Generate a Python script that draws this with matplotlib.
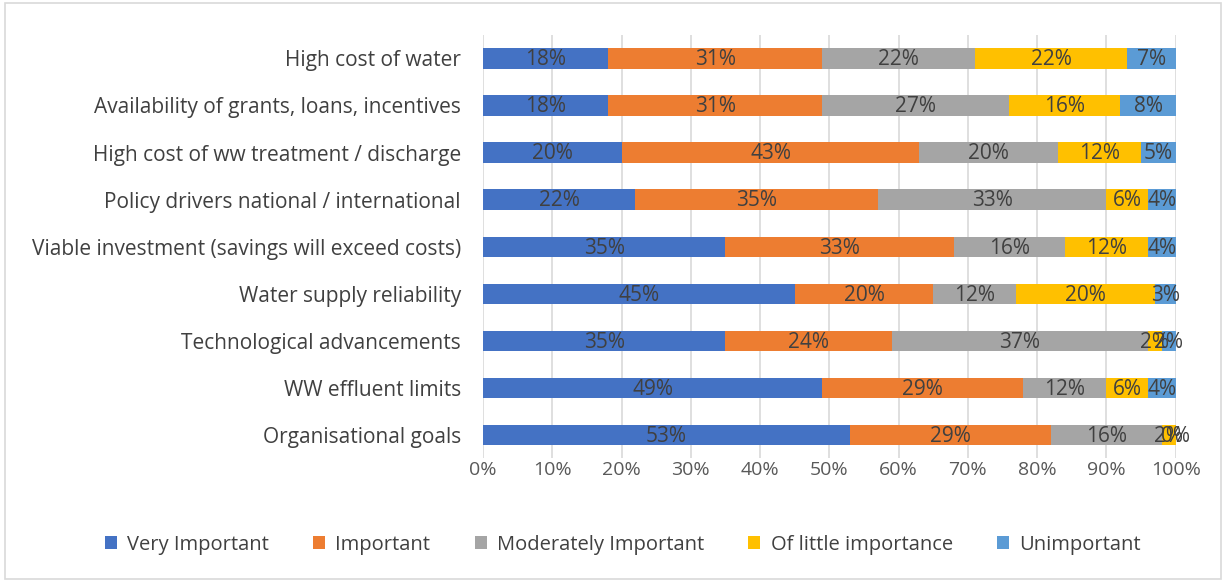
import matplotlib
matplotlib.use("Agg")
import matplotlib.pyplot as plt
from matplotlib.patches import Rectangle
from matplotlib.ticker import FuncFormatter
import numpy as np

categories = [
    "High cost of water",
    "Availability of grants, loans, incentives",
    "High cost of ww treatment / discharge",
    "Policy drivers national / international",
    "Viable investment (savings will exceed costs)",
    "Water supply reliability",
    "Technological advancements",
    "WW effluent limits",
    "Organisational goals",
]
series_names = ["Very Important", "Important", "Moderately Important",
                "Of little importance", "Unimportant"]
very_important = [18, 18, 20, 22, 35, 45, 35, 49, 53]
important = [31, 31, 43, 35, 33, 20, 24, 29, 29]
moderately = [22, 27, 20, 33, 16, 12, 37, 12, 16]
little = [22, 16, 12, 6, 12, 20, 2, 6, 2]
unimportant = [7, 8, 5, 4, 4, 3, 2, 4, 0]
colors = ["#4472C4", "#ED7D31", "#A5A5A5", "#FFC000", "#5B9BD5"]

plt.rcParams['font.family'] = ['Open Sans', 'DejaVu Sans']
fig = plt.figure(figsize=(12.26, 5.81), dpi=100)
fig.patches.append(Rectangle((0.004, 0.004), 0.992, 0.99, transform=fig.transFigure,
                             fill=False, edgecolor="#D9D9D9", linewidth=1.2))
ax = fig.add_axes([0.394, 0.211, 0.565, 0.729])

data = [very_important, important, moderately, little, unimportant]
y = np.arange(len(categories))
left = np.zeros(len(categories))
for name, vals, c in zip(series_names, data, colors):
    vals = np.array(vals, dtype=float)
    ax.barh(y, vals, left=left, height=0.43, color=c, label=name, zorder=3)
    for yi, l, v in zip(y, left, vals):
        ax.text(l + v / 2, yi + 0.03, f"{int(v)}%", ha="center", va="center",
                fontsize=15, color="#404040", zorder=4)
    left += vals

ax.set_xlim(0, 100)
ax.set_ylim(len(categories) - 0.5, -0.5)
ax.set_yticks(y)
ax.set_yticklabels(categories, fontsize=15, color="#404040")
ax.set_xticks(np.arange(0, 101, 10))
ax.xaxis.set_major_formatter(FuncFormatter(lambda v, p: f"{int(v)}%"))
ax.tick_params(axis="x", labelsize=14, colors="#595959", length=0, pad=2)
ax.tick_params(axis="y", length=0, pad=16)
ax.grid(axis="x", color="#D9D9D9", linewidth=1.2, zorder=0)
for s in ax.spines.values():
    s.set_visible(False)

fig.legend(loc="center", bbox_to_anchor=(0.508, 0.062), ncol=5, frameon=False,
           fontsize=14.5, handlelength=0.6, handleheight=0.6, columnspacing=2.2,
           handletextpad=0.5, labelcolor="#404040")

fig.savefig("out.png", dpi=100)
